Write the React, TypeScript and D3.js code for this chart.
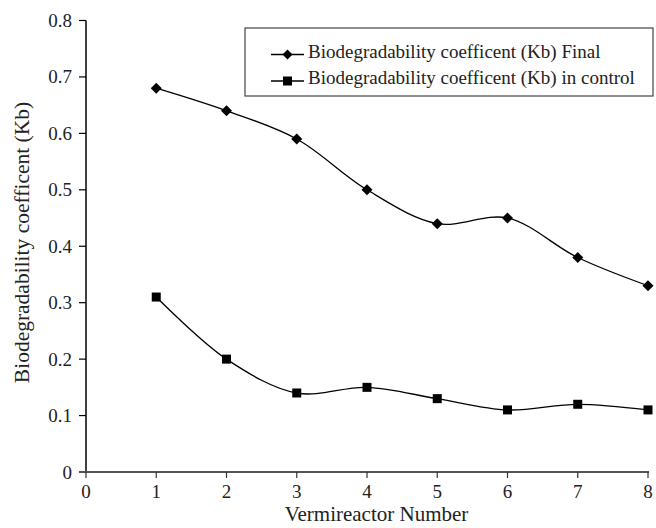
import React from "react";
import * as d3 from "d3";

const vermireactors = [1, 2, 3, 4, 5, 6, 7, 8];
const kbFinal = [0.68, 0.64, 0.59, 0.5, 0.44, 0.45, 0.38, 0.33];
const kbControl = [0.31, 0.2, 0.14, 0.15, 0.13, 0.11, 0.12, 0.11];
const xTicks = [0, 1, 2, 3, 4, 5, 6, 7, 8];
const yTicks = [0, 0.1, 0.2, 0.3, 0.4, 0.5, 0.6, 0.7, 0.8];
const seriesNames = [
  "Biodegradability coefficent (Kb) Final",
  "Biodegradability coefficent (Kb) in control",
];

export default function App() {
  const W = 656, H = 528;
  const x = d3.scaleLinear().domain([0, 8]).range([86, 648]);
  const y = d3.scaleLinear().domain([0, 0.8]).range([472, 20.5]);
  const line = d3
    .line<number>()
    .x((_, i) => x(vermireactors[i]))
    .y((d) => y(d))
    .curve(d3.curveCatmullRom.alpha(0.5));
  const tStyle = { fontFamily: "'Liberation Serif', serif" };
  const diamond = (cx: number, cy: number, r: number) =>
    `M${cx},${cy - r}L${cx + r},${cy}L${cx},${cy + r}L${cx - r},${cy}Z`;
  return (
    <svg
      width={W}
      height={H}
      style={{ position: "absolute", left: 0, top: 0, background: "#fff" }}
    >
      {/* Y axis */}
      <line x1={x(0)} x2={x(0)} y1={y(0.8)} y2={y(0)} stroke="#000" strokeWidth={1.5} />
      {yTicks.map((t) => (
        <g key={"y" + t}>
          <line x1={x(0) - 7} x2={x(0)} y1={y(t)} y2={y(t)} stroke="#000" strokeWidth={1.2} />
          <text x={x(0) - 14} y={y(t) + 6.5} textAnchor="end" fontSize={19} fill="#222" style={tStyle}>
            {t === 0 ? "0" : t.toFixed(1)}
          </text>
        </g>
      ))}
      {/* X axis */}
      <line x1={x(0) - 7} x2={x(8) + 1} y1={y(0)} y2={y(0)} stroke="#555" strokeWidth={2} />
      {xTicks.map((t) => (
        <g key={"x" + t}>
          <line x1={x(t)} x2={x(t)} y1={y(0)} y2={y(0) + 6} stroke="#333" strokeWidth={1.2} />
          <text x={x(t)} y={y(0) + 26} textAnchor="middle" fontSize={19} fill="#222" style={tStyle}>
            {t}
          </text>
        </g>
      ))}
      <text x={376.5} y={521} textAnchor="middle" fontSize={21} fill="#222" style={tStyle}>
        Vermireactor Number
      </text>
      <text
        transform={`translate(29,242.5) rotate(-90)`}
        textAnchor="middle"
        fontSize={21.5}
        fill="#222"
        style={tStyle}
      >
        Biodegradability coefficent (Kb)
      </text>
      {/* Series */}
      <path d={line(kbFinal) || ""} fill="none" stroke="#000" strokeWidth={1.3} />
      <path d={line(kbControl) || ""} fill="none" stroke="#000" strokeWidth={1.3} />
      {kbFinal.map((v, i) => (
        <path key={"f" + i} d={diamond(x(vermireactors[i]), y(v), 5.5)} fill="#000" />
      ))}
      {kbControl.map((v, i) => (
        <rect
          key={"c" + i}
          x={x(vermireactors[i]) - 4.5}
          y={y(v) - 4.5}
          width={9}
          height={9}
          fill="#000"
        />
      ))}
      {/* Legend */}
      <rect x={245} y={28} width={408} height={68} fill="#fff" stroke="#444" strokeWidth={1.2} />
      <line x1={271} x2={304} y1={54.5} y2={54.5} stroke="#000" strokeWidth={1.5} />
      <path d={diamond(287.5, 54.5, 5)} fill="#000" />
      <text x={308} y={57.5} fontSize={19} fill="#222" style={tStyle}>
        {seriesNames[0]}
      </text>
      <line x1={271} x2={304} y1={81} y2={81} stroke="#000" strokeWidth={1.5} />
      <rect x={283} y={76.5} width={9} height={9} fill="#000" />
      <text x={308} y={84} fontSize={19} fill="#222" style={tStyle}>
        {seriesNames[1]}
      </text>
    </svg>
  );
}
